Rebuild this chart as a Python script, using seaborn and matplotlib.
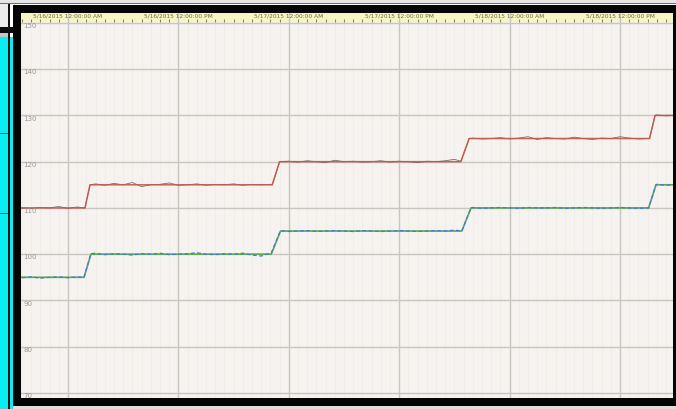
import matplotlib
matplotlib.use("Agg")
import matplotlib.pyplot as plt
import matplotlib.dates as mdates
from matplotlib.patches import Rectangle
import numpy as np
import pandas as pd
import seaborn as sns

# hours from 5/16/2015 00:00
red_sp_hours = [-5.2, 1.85, 2.4, 22.2, 23.0, 42.7, 43.6, 63.2, 63.8, 65.8]
red_sp_vals = [110, 110, 115, 115, 120, 120, 125, 125, 130, 130]
green_sp_hours = [-5.2, 1.75, 2.5, 22.1, 23.1, 42.8, 43.8, 63.1, 63.9, 65.8]
green_sp_vals = [95, 95, 100, 100, 105, 105, 110, 110, 115, 115]

red_pv_hours = [-5, -4, -3, -2, -1, 0, 1, 1.85, 2.4, 3, 4, 5, 6, 7, 8, 9, 10, 11, 12, 13,
                14, 15, 16, 17, 18, 19, 20, 21, 22, 22.2, 23, 24, 25, 26, 27, 28, 29, 30,
                31, 32, 33, 34, 35, 36, 37, 38, 39, 40, 41, 42, 42.7, 43.6, 44, 45, 46, 47,
                48, 49, 50, 51, 52, 53, 54, 55, 56, 57, 58, 59, 60, 61, 62, 63, 63.2, 63.8,
                64, 65, 65.8]
red_pv_vals = [110.0, 109.9, 110.1, 110.0, 110.3, 109.9, 110.2, 110.0, 115.0, 115.2, 114.9,
               115.3, 115.0, 115.5, 114.6, 115.0, 115.1, 115.4, 114.9, 115.0, 115.2, 114.9,
               115.1, 115.0, 115.2, 114.9, 115.1, 115.0, 115.1, 115.0, 120.0, 120.1, 119.9,
               120.2, 120.0, 119.8, 120.3, 120.0, 120.1, 119.9, 120.0, 120.2, 119.9, 120.1,
               120.0, 119.8, 120.1, 120.0, 120.2, 120.5, 120.1, 125.0, 125.1, 124.9, 125.0,
               125.2, 124.9, 125.1, 125.4, 124.8, 125.2, 125.0, 124.9, 125.3, 125.0, 124.8,
               125.1, 125.0, 125.4, 125.1, 124.9, 125.0, 125.0, 130.0, 130.1, 129.9, 130.0]

blue_pv_hours = [-5, -4, -3, -2, -1, 0, 1, 1.75, 2.5, 3, 4, 5, 6, 7, 8, 9, 10, 11, 12, 13,
                 14, 15, 16, 17, 18, 19, 20, 21, 22.1, 23.1, 24, 25, 26, 27, 28, 29, 30, 31,
                 32, 33, 34, 35, 36, 37, 38, 39, 40, 41, 42, 42.8, 43.8, 44, 45, 46, 47, 48,
                 49, 50, 51, 52, 53, 54, 55, 56, 57, 58, 59, 60, 61, 62, 63.1, 63.9, 64, 65,
                 65.8]
blue_pv_vals = [94.9, 95.1, 94.8, 95.0, 95.1, 94.9, 95.1, 95.0, 100.1, 100.2, 99.9, 100.1,
                100.0, 99.8, 100.1, 100.0, 100.2, 99.9, 100.0, 100.1, 100.3, 100.0, 99.9,
                100.1, 100.0, 100.2, 99.8, 99.6, 100.3, 105.1, 104.9, 105.0, 105.1, 104.9,
                105.0, 105.1, 105.0, 104.9, 105.1, 105.0, 104.9, 105.0, 105.1, 105.0, 104.9,
                105.0, 105.1, 105.0, 105.2, 105.0, 110.0, 110.1, 109.9, 110.0, 110.1, 110.0,
                109.9, 110.1, 110.0, 110.0, 110.1, 109.9, 110.0, 110.1, 110.0, 109.9, 110.0,
                110.1, 110.0, 109.9, 110.0, 115.0, 115.1, 114.9, 115.0]

xtick_labels = ["5/16/2015 12:00:00 AM", "5/16/2015 12:00:00 PM", "5/17/2015 12:00:00 AM",
                "5/17/2015 12:00:00 PM", "5/18/2015 12:00:00 AM", "5/18/2015 12:00:00 PM"]
xtick_hours = [0, 12, 24, 36, 48, 60]
ytick_vals = [70, 80, 90, 100, 110, 120, 130, 140, 150]

t0 = pd.Timestamp("2015-05-16 00:00")
def to_time(h):
    return t0 + pd.to_timedelta(h, unit="h")

W, H = 676, 409
fig = plt.figure(figsize=(W / 100, H / 100), dpi=100, facecolor="white")

def rect(x, y, w, h, c):
    fig.add_artist(Rectangle((x / W, 1 - (y + h) / H), w / W, h / H,
                             transform=fig.transFigure, color=c, lw=0, zorder=-5))

# screenshot surroundings
rect(0, 0, W, 3, "#e6e6e6")
rect(0, 3, W, 1, "#6e6e6e")
rect(0, 4, 8, 23, "#ececec")
rect(0, 27, 13, 6, "#0a0a0a")
rect(0, 33, 8, 4, "#c4c4c4")
rect(0, 37, 8, 372, "#08eef2")
rect(10, 37, 3, 372, "#08eef2")
rect(8, 4, 2, 405, "#101010")
rect(0, 133, 8, 1, "#2a4a8a")
rect(0, 213, 8, 1, "#2a4a8a")
rect(13, 5, W - 13, 8, "#050505")
rect(13, 5, 8, 402, "#050505")
rect(13, 398, W - 13, 8, "#050505")
rect(673, 5, 3, 402, "#050505")
rect(13, 406, W - 13, 3, "#dedede")

ax = fig.add_axes([21 / W, 1 - 398 / H, 652 / W, 376 / H])
strip = fig.add_axes([21 / W, 1 - 22 / H, 652 / W, 9 / H], sharex=ax)

ax.set_facecolor("#f5f2ef")
sns.lineplot(x=[to_time(h) for h in red_pv_hours], y=red_pv_vals, ax=ax,
             color="#5a5a5a", lw=0.6, alpha=0.85)
sns.lineplot(x=[to_time(h) for h in red_sp_hours], y=red_sp_vals, ax=ax,
             color="#c0564a", lw=1.1, alpha=0.9)
sns.lineplot(x=[to_time(h) for h in green_sp_hours], y=green_sp_vals, ax=ax,
             color="#5aaa50", lw=1.2)
sns.lineplot(x=[to_time(h) for h in blue_pv_hours], y=blue_pv_vals, ax=ax,
             color="#4a78d8", lw=0.9, dashes=(3, 2))

ax.set_xlim(to_time(-5.1), to_time(65.75))
ax.set_ylim(68.9, 150.2)
ax.xaxis.set_major_locator(mdates.HourLocator(byhour=[0, 12]))
ax.xaxis.set_minor_locator(mdates.HourLocator(interval=1))
ax.set_yticks(ytick_vals)
ax.grid(which="major", color="#c9c5c1", lw=1)
ax.grid(which="minor", axis="x", color="#eeeae6", lw=0.5)
ax.tick_params(which="both", length=0, labelbottom=False, labelleft=False)
ax.set_xlabel("")
ax.set_ylabel("")
for s in ax.spines.values():
    s.set_visible(False)
for v in ytick_vals:
    ax.annotate(str(v), (0, v), xycoords=("axes fraction", "data"), xytext=(1.5, -2.3),
                textcoords="offset points", va="center", ha="left", fontsize=5,
                color="#9a9a9a")

strip.set_facecolor("#f7f5c4")
strip.set_yticks([])
strip.grid(which="major", axis="x", color="#c9c5c1", lw=1)
strip.tick_params(axis="x", which="major", length=0, labelbottom=False)
strip.tick_params(axis="x", which="minor", direction="in", length=2, width=0.8,
                  color="#8a8a50")
for s in strip.spines.values():
    s.set_visible(False)
for h, lbl in zip(xtick_hours, xtick_labels):
    strip.text(to_time(h), 0.62, lbl, transform=strip.get_xaxis_transform(),
               ha="center", va="center", fontsize=4.2, color="#6a6a3a")

fig.savefig("out.png", dpi=100, facecolor="white")
